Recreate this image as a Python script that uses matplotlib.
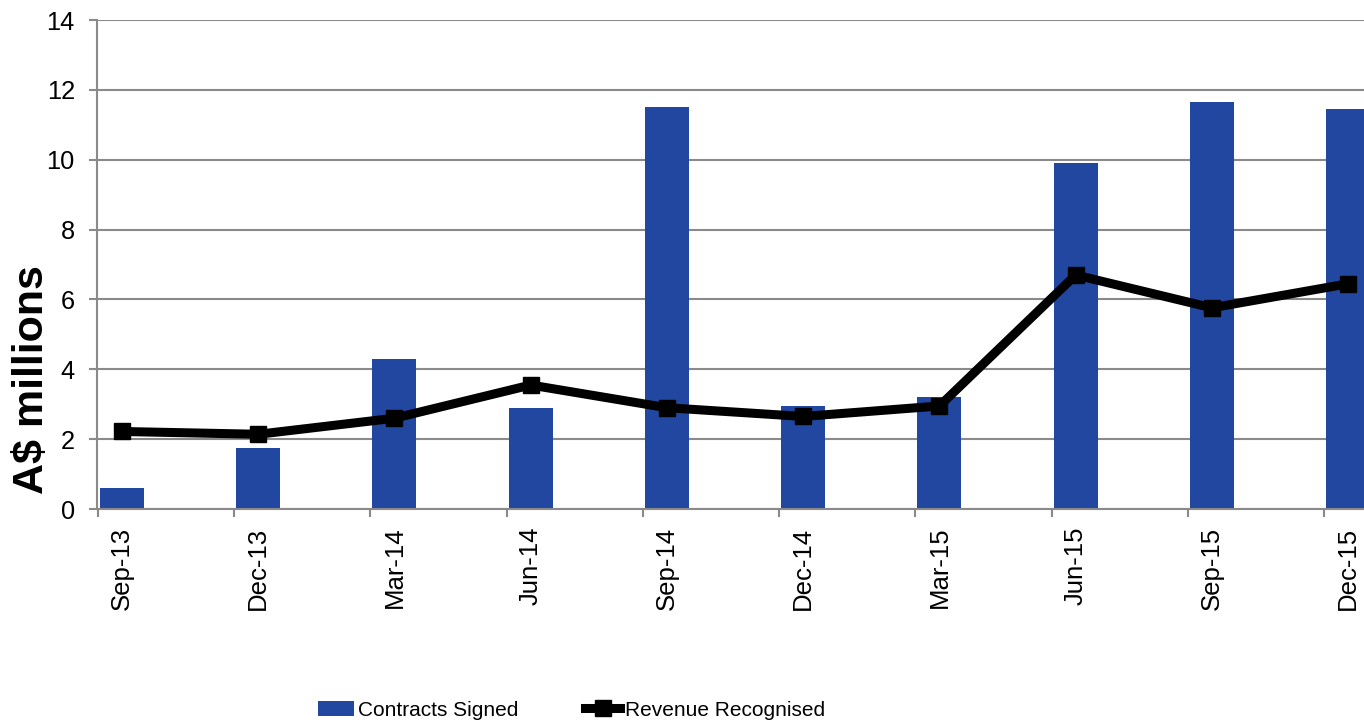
import matplotlib
matplotlib.use("Agg")
import matplotlib.pyplot as plt
import numpy as np

quarters = ["Sep-13", "Dec-13", "Mar-14", "Jun-14", "Sep-14",
            "Dec-14", "Mar-15", "Jun-15", "Sep-15", "Dec-15"]
contracts_signed = [0.6, 1.75, 4.3, 2.9, 11.5, 2.95, 3.2, 9.9, 11.65, 11.45]
revenue_recognised = [2.22, 2.14, 2.6, 3.55, 2.9, 2.65, 2.95, 6.7, 5.76, 6.45]
y_ticks = [0, 2, 4, 6, 8, 10, 12, 14]

BAR_BLUE = "#2247A1"
GRID_GREY = "#8A8A8A"
plt.rcParams["font.family"] = ["Liberation Sans", "DejaVu Sans"]

fig = plt.figure(figsize=(13.64, 7.28), dpi=100)
ax = fig.add_axes([0.0711, 0.3008, 0.9289, 0.6717])

x = np.arange(len(quarters))
bars = ax.bar(x, contracts_signed, width=0.323, color=BAR_BLUE, zorder=2,
              label="Contracts Signed")
line, = ax.plot(x, revenue_recognised, color="black", lw=6.5, marker="s",
                markersize=12, zorder=3, label="Revenue Recognised",
                solid_joinstyle="miter")

ax.set_xlim(-0.1835, 9.116)
ax.set_ylim(0, 14)
ax.set_yticks(y_ticks)
ax.tick_params(axis="y", labelsize=18.3, length=6, width=1.5,
               color=GRID_GREY, pad=10)
ax.yaxis.grid(True, color=GRID_GREY, lw=1.5, zorder=0)
ax.set_axisbelow(True)

# category labels sit under the bars, tick marks at the slot edges
ax.set_xticks(x - 0.176)
ax.set_xticklabels([])
ax.tick_params(axis="x", which="major", length=6, width=1.5,
               color=GRID_GREY)
ax.set_xticks(x, minor=True)
ax.set_xticklabels(quarters, minor=True, rotation=90, fontsize=18.5)
ax.tick_params(axis="x", which="minor", length=0, pad=12.5)

for side in ("top", "right"):
    ax.spines[side].set_visible(False)
for side in ("left", "bottom"):
    ax.spines[side].set_color(GRID_GREY)
    ax.spines[side].set_linewidth(1.5)

fig.text(32 / 1364, 1 - 380 / 728, "A$ millions", rotation=90,
         ha="center", va="center", fontsize=31, fontweight="bold")

fig.legend(handles=[bars, line], loc="center",
           bbox_to_anchor=(0.419, 1 - 710 / 728), ncol=2,
           frameon=False, handlelength=1.7, handletextpad=0.2,
           columnspacing=3.2, fontsize=15)

fig.savefig("out.png", dpi=100)
